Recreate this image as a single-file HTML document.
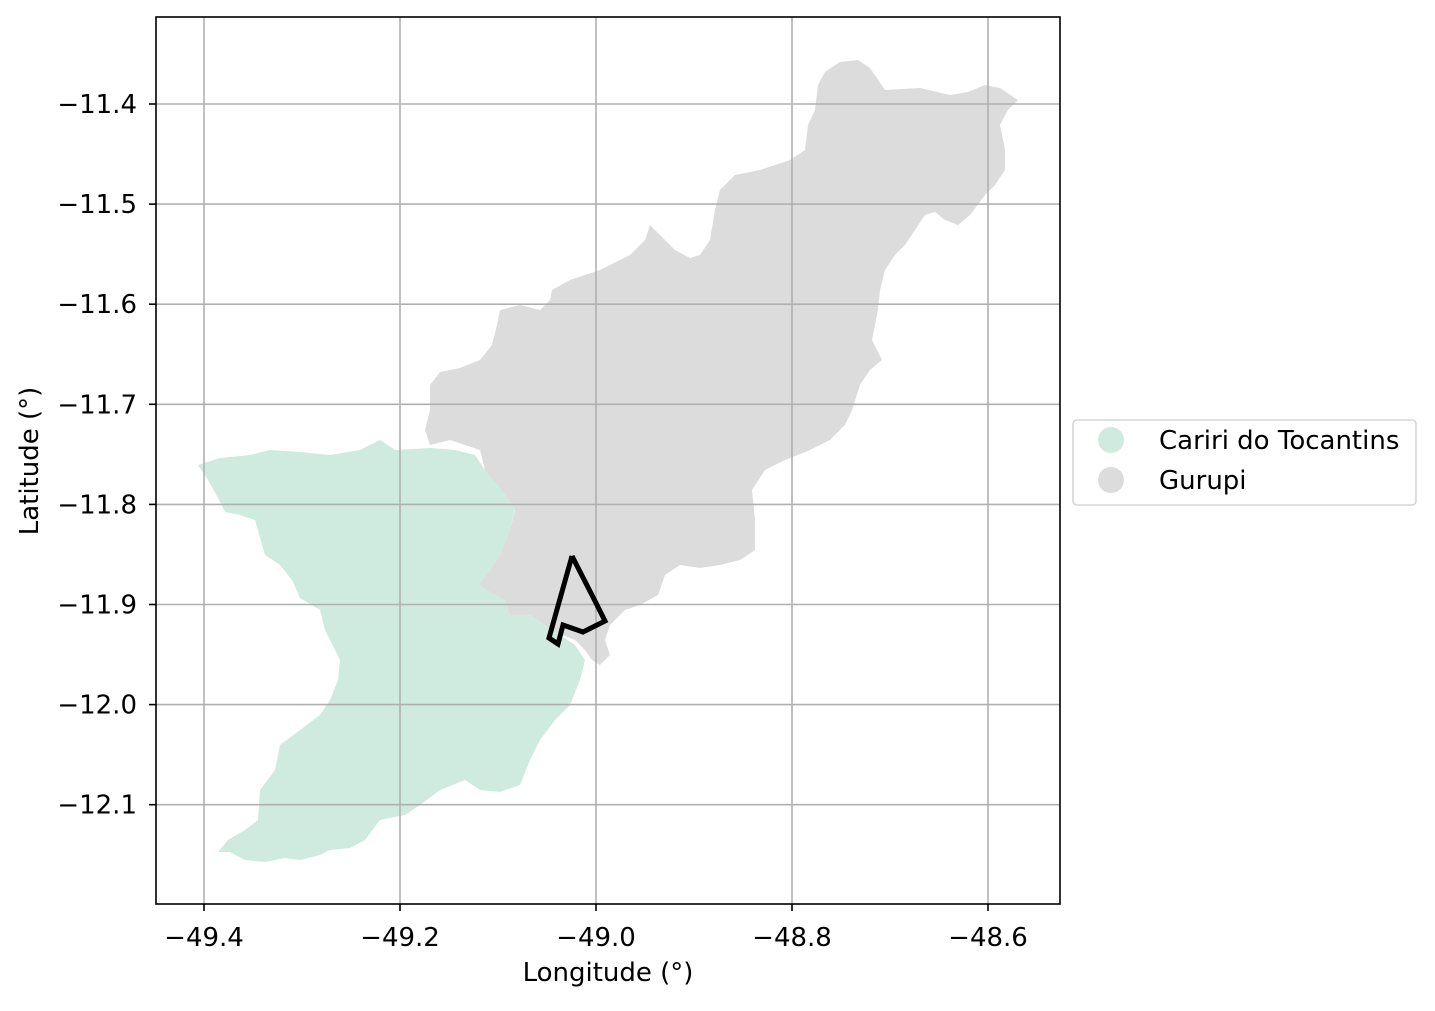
<!DOCTYPE html>
<html><head><meta charset="utf-8">
<style>
html,body{margin:0;padding:0;background:#fff;}
svg text{font-family:"DejaVu Sans","Liberation Sans",sans-serif;fill:#000;}
</style></head>
<body>
<svg id="chart" width="1435" height="1006" viewBox="0 0 1435 1006" xmlns="http://www.w3.org/2000/svg">
<g id="regions"></g>
<g id="grid"></g>
<g id="outline"></g>
<rect x="156" y="17" width="904" height="887" fill="none" stroke="#000" stroke-width="1.6"/>
<g id="ticks"></g>
<text x="608" y="981" style="font-size:26px" text-anchor="middle">Longitude (°)</text>
<text transform="translate(38,461) rotate(-90)" style="font-size:26px" text-anchor="middle">Latitude (°)</text>
<g>
<rect x="1073" y="420" width="343" height="85" rx="4" fill="#fff" stroke="#d5d5d5" stroke-width="1.6"/>
<g>
<circle cx="1111" cy="440" r="13" fill="#cfeade"/>
<text x="1159" y="449" style="font-size:26px">Cariri do Tocantins</text></g>
<g>
<circle cx="1111" cy="480" r="13" fill="#dcdcdc"/>
<text x="1159" y="489" style="font-size:26px">Gurupi</text></g>
</g>
</svg>
<script>
const xTicks = [-49.4, -49.2, -49.0, -48.8, -48.6];
const yTicks = [-11.4, -11.5, -11.6, -11.7, -11.8, -11.9, -12.0, -12.1];
const regionNames = ["Gurupi", "Cariri do Tocantins"];
const gurupiPx = [[825,72],[840,62],[858,60],[870,68],[885,90],[920,88],[950,95],[968,92],[985,85],[1000,88],[1018,100],[1008,110],[1000,125],[1005,150],[1005,170],[995,185],[985,195],[970,215],[958,225],[945,220],[935,212],[925,215],[915,230],[905,245],[895,255],[885,270],[880,290],[878,310],[872,340],[882,360],[870,370],[860,385],[852,410],[845,425],[830,440],[810,450],[785,460],[765,470],[752,490],[755,520],[755,550],[740,560],[720,565],[700,568],[680,565],[665,575],[658,595],[640,605],[625,610],[610,625],[605,640],[610,655],[600,665],[592,660],[585,650],[575,640],[555,632],[530,615],[510,615],[505,600],[490,592],[478,585],[490,570],[500,555],[510,530],[515,510],[500,490],[485,470],[480,450],[465,445],[450,440],[430,445],[425,430],[430,410],[430,385],[440,372],[460,368],[480,360],[492,345],[497,325],[500,310],[520,305],[540,310],[550,300],[552,290],[570,280],[600,270],[630,255],[645,240],[650,225],[660,235],[675,250],[690,258],[700,255],[710,240],[715,210],[720,190],[735,175],[760,170],[790,160],[805,150],[808,125],[815,110],[818,85]];
const caririPx = [[198,465],[220,458],[250,455],[270,450],[300,452],[330,455],[360,450],[380,440],[395,450],[430,448],[455,450],[475,455],[485,470],[500,488],[515,508],[510,530],[500,555],[490,570],[478,585],[490,592],[505,600],[510,615],[530,615],[555,632],[575,645],[585,660],[580,680],[570,705],[555,720],[540,740],[530,760],[520,785],[500,792],[480,790],[465,780],[440,790],[420,805],[405,815],[380,820],[365,840],[350,848],[330,850],[320,855],[300,860],[285,858],[265,862],[245,860],[230,852],[218,852],[228,840],[245,830],[258,820],[260,790],[275,770],[280,745],[300,730],[320,715],[330,700],[338,680],[340,660],[325,630],[320,610],[300,598],[292,580],[280,565],[265,555],[255,520],[240,515],[225,512],[218,498],[208,480]];
const outlinePx = [[572,556],[595,601],[605,621],[583,632],[563,625],[558,644],[549,638],[572,556]];
function toLL(p){return [+(-49.4+(p[0]-204)/980).toFixed(4), +(-11.4-(p[1]-104)/1001).toFixed(4)];}
const gurupiLonLat = gurupiPx.map(toLL);
const caririLonLat = caririPx.map(toLL);
const outlineLonLat = outlinePx.map(toLL);

const X0=204, XS=980, Y0=104, YS=1001;
function xs(lon){return X0+(lon+49.4)*XS;}
function ys(lat){return Y0+(-11.4-lat)*YS;}
const NS="http://www.w3.org/2000/svg";
function mk(tag,attrs,parent){const e=document.createElementNS(NS,tag);for(const k in attrs)e.setAttribute(k,attrs[k]);parent.appendChild(e);return e;}
function pts(arr){return arr.map(p=>xs(p[0]).toFixed(1)+","+ys(p[1]).toFixed(1)).join(" ");}

const reg=document.getElementById("regions");
const g1=mk("polygon",{points:pts(gurupiLonLat),fill:"#dcdcdc"},reg);


const g2=mk("polygon",{points:pts(caririLonLat),fill:"#cfeade"},reg);



const grid=document.getElementById("grid"), ticks=document.getElementById("ticks");
xTicks.forEach(v=>{
  const x=xs(v);
  const l=mk("line",{x1:x,x2:x,y1:17,y2:904,stroke:"#b0b0b0","stroke-width":1.6},grid);
  
  
  mk("line",{x1:x,x2:x,y1:904,y2:911,stroke:"#000","stroke-width":1.6},ticks);
  const t=mk("text",{x:x,y:946,style:"font-size:26px","text-anchor":"middle"},ticks);
  t.textContent="\u2212"+Math.abs(v).toFixed(1);
  
  
});
yTicks.forEach(v=>{
  const y=ys(v);
  const l=mk("line",{x1:156,x2:1060,y1:y,y2:y,stroke:"#b0b0b0","stroke-width":1.6},grid);
  
  
  mk("line",{x1:149,x2:156,y1:y,y2:y,stroke:"#000","stroke-width":1.6},ticks);
  const t=mk("text",{x:137,y:y+9,style:"font-size:26px","text-anchor":"end"},ticks);
  t.textContent="\u2212"+Math.abs(v).toFixed(1);
  
  
});
const ol=mk("polyline",{points:pts(outlineLonLat),fill:"none",stroke:"#000","stroke-width":5,"stroke-linejoin":"miter"},document.getElementById("outline"));


</script>
</body></html>
